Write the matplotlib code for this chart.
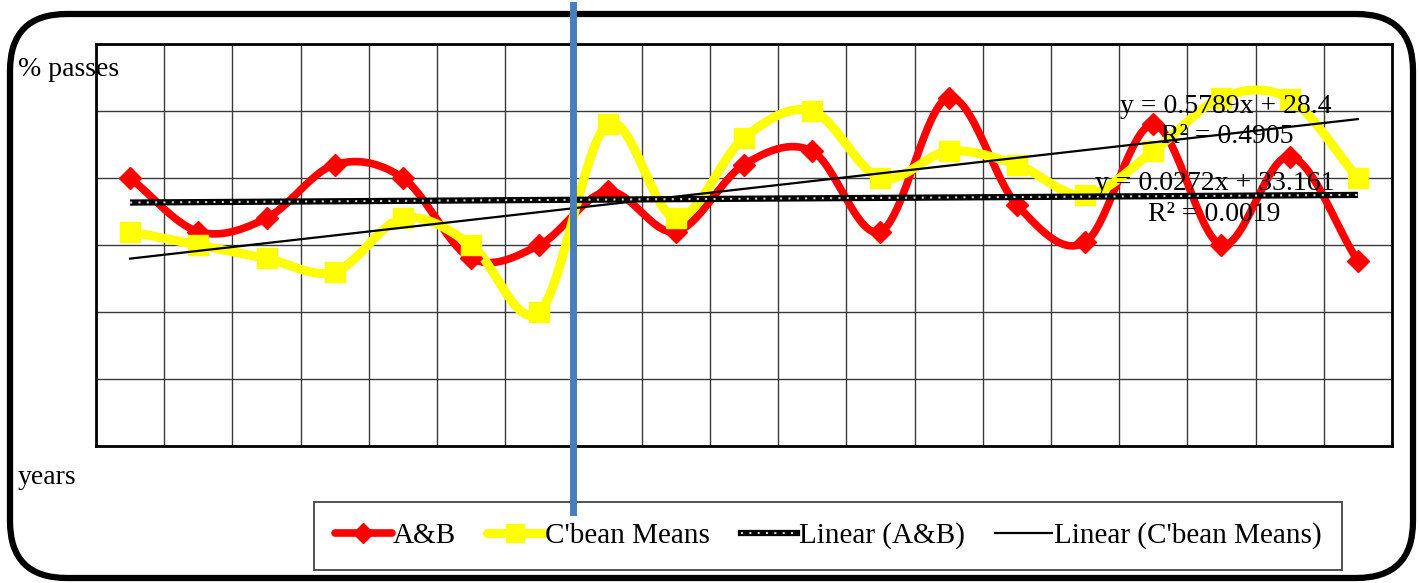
import numpy as np
import matplotlib
matplotlib.use("Agg")
import matplotlib.pyplot as plt
from matplotlib.patches import FancyBboxPatch
from matplotlib.lines import Line2D

years = list(range(1, 20))
ab_values = [35.0, 31.0, 32.0, 36.0, 35.0, 29.0, 30.0, 34.0, 31.0, 36.0,
             37.0, 31.0, 41.0, 33.0, 30.2, 39.0, 30.0, 36.6, 28.8]
cbean_values = [31.0, 30.0, 29.0, 28.0, 32.0, 30.0, 25.0, 39.0, 32.0, 38.0,
                40.0, 35.0, 37.0, 36.0, 33.7, 37.0, 41.0, 40.9, 35.0]
series_names = ["A&B", "C'bean Means", "Linear (A&B)", "Linear (C'bean Means)"]
ab_eq = ["y = 0.0272x + 33.161", "R\u00b2 = 0.0019"]
cb_eq = ["y = 0.5789x + 28.4", "R\u00b2 = 0.4905"]
y_label = "% passes"
x_label = "years"
divider_x = 7.5

plt.rcParams['font.family'] = ['Liberation Serif', 'DejaVu Serif']
W, H = 1419, 583
fig = plt.figure(figsize=(W / 100, H / 100), dpi=100)

def smooth(x, y, n=30):
    x = np.asarray(x, float); y = np.asarray(y, float)
    px = np.concatenate([[2 * x[0] - x[1]], x, [2 * x[-1] - x[-2]]])
    py = np.concatenate([[2 * y[0] - y[1]], y, [2 * y[-1] - y[-2]]])
    xs, ys = [], []
    t = np.linspace(0, 1, n)
    for i in range(1, len(px) - 2):
        p0 = np.array([px[i], py[i]]); p3 = np.array([px[i + 1], py[i + 1]])
        p1 = p0 + (np.array([px[i + 1], py[i + 1]]) - np.array([px[i - 1], py[i - 1]])) / 6
        p2 = p3 - (np.array([px[i + 2], py[i + 2]]) - np.array([px[i], py[i]])) / 6
        b = ((1 - t) ** 3)[:, None] * p0 + (3 * (1 - t) ** 2 * t)[:, None] * p1 + \
            (3 * (1 - t) * t ** 2)[:, None] * p2 + (t ** 3)[:, None] * p3
        xs.extend(b[:, 0]); ys.extend(b[:, 1])
    return np.array(xs), np.array(ys)

ax = fig.add_axes([96 / W, 1 - 446 / H, (1392 - 96) / W, (446 - 44) / H])
ax.set_xlim(0.5, 19.5)
ax.set_ylim(15, 45)
ax.set_xticks(np.arange(0.5, 19.6, 1))
ax.set_yticks(np.arange(15, 46, 5))
ax.tick_params(length=0, labelbottom=False, labelleft=False)
ax.grid(True, color='#3a3a3a', linewidth=1.0)
ax.set_axisbelow(True)
for s in ax.spines.values():
    s.set_linewidth(2.0)
    s.set_color('black')

red = '#FF0000'
yel = '#FFFF00'
sx, sy = smooth(years, ab_values)
ax.plot(sx, sy, color=red, lw=5.5, solid_capstyle='round', zorder=3)
ax.plot(years, ab_values, ls='none', marker='D', ms=11, color=red, zorder=4)
sx, sy = smooth(years, cbean_values)
ax.plot(sx, sy, color=yel, lw=6.5, solid_capstyle='round', zorder=3)
ax.plot(years, cbean_values, ls='none', marker='s', ms=15, color=yel, zorder=4)

xs = np.array(years, float)
ka, ca = np.polyfit(xs, ab_values, 1)
kc, cc = np.polyfit(xs, cbean_values, 1)
ax.plot(xs, ka * xs + ca, color='black', lw=4.5, zorder=5, solid_capstyle='butt')
ax.plot(xs, ka * xs + ca, color='#d0d0d0', lw=1.5, ls=(0, (1, 3)), zorder=6)
ax.plot(xs, kc * xs + cc, color='black', lw=1.6, zorder=5)

fs = 20
ax.text(17.07, 40.3, cb_eq[0], ha='center', va='center', fontsize=fs, zorder=7)
ax.text(17.08, 38.1, cb_eq[1], ha='center', va='center', fontsize=fs, zorder=7)
ax.text(16.9, 34.6, ab_eq[0], ha='center', va='center', fontsize=fs, zorder=7)
ax.text(16.9, 32.3, ab_eq[1], ha='center', va='center', fontsize=fs, zorder=7)

# divider line extends beyond the axes
xd = ax.transData.transform((divider_x, 30))[0] / fig.dpi / fig.get_figwidth()
fig.add_artist(Line2D([xd, xd], [1 - 5 / H, 1 - 512 / H], color='#4A7EBB', lw=5, zorder=10))

fig.text(18 / W, 1 - 70 / H, y_label, fontsize=fs, va='center', ha='left', zorder=8)
fig.text(18 / W, 1 - 478 / H, x_label, fontsize=fs, va='center', ha='left')

handles = [
    Line2D([], [], color=red, lw=5.5, marker='D', ms=10, solid_capstyle='round'),
    Line2D([], [], color=yel, lw=6.5, marker='s', ms=13, solid_capstyle='round'),
    (Line2D([], [], color='black', lw=4.5), Line2D([], [], color='#d0d0d0', lw=1.5, ls=(0, (1, 3)))),
    Line2D([], [], color='black', lw=1.6),
]
leg = fig.legend(handles, series_names, loc='center', bbox_to_anchor=(828 / W, 1 - 536 / H),
                 ncol=4, fontsize=21, frameon=True, fancybox=False, edgecolor='black',
                 handlelength=1.95, handletextpad=0.05, columnspacing=1.05,
                 borderpad=0.7, borderaxespad=0)
leg.get_frame().set_linewidth(1.2)

border = FancyBboxPatch((10 / W, 1 - 578 / H), (1413 - 10) / W, (578 - 14) / H,
                        boxstyle='round,pad=0,rounding_size=0.04',
                        transform=fig.transFigure, fill=False, lw=4.5, edgecolor='black',
                        mutation_aspect=W / H)
fig.add_artist(border)

fig.savefig('out.png', dpi=100)
